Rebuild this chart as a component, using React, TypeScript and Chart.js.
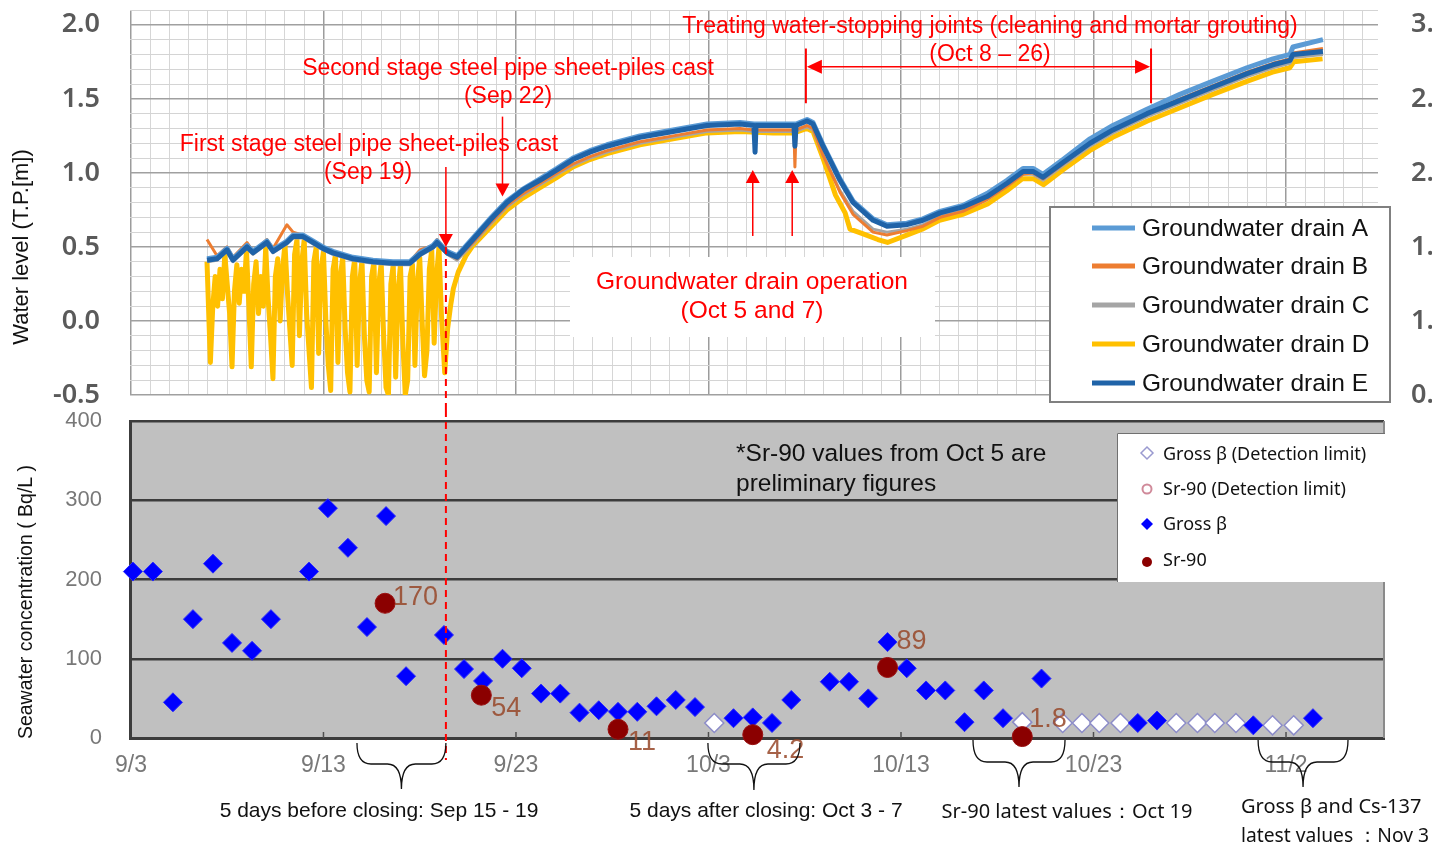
import React, { useEffect, useRef } from 'react';
import { Chart, registerables } from 'chart.js';
Chart.register(...registerables);

const W = 1432;
const TOP_H = 410;
const BOT_H = 437;
const FONT_A = "'Liberation Sans', Arial, sans-serif";
const FONT_C = "'Noto Sans', 'Open Sans', sans-serif";
const RED = '#ff0000';

// ---------- Top chart: water level (days since Sep 3) ----------
const levelDays = [3.95, 4.47, 4.99, 5.3, 6.03, 6.34, 7.06, 7.38, 8.1, 8.42, 8.94, 9.45, 9.97, 10.49, 11.53, 12.57, 13.61, 14.49, 15.01, 15.69, 15.9, 16.42, 16.94, 17.77, 18.65, 19.53, 20.36, 21.25, 22.13, 22.96, 23.84, 24.73, 26.44, 28.16, 29.92, 31.64, 32.36, 32.42, 32.47, 33.35, 34.44, 34.49, 34.55, 35.12, 35.43, 35.95, 36.83, 37.51, 38.55, 39.27, 40.31, 41.14, 42.03, 43.22, 44.47, 45.51, 46.34, 46.86, 47.38, 48.42, 49.82, 51.01, 52.78, 54.49, 56.21, 57.97, 59.32, 60.21, 60.36, 61.92];
const drainE = [0.41, 0.42, 0.48, 0.41, 0.50, 0.46, 0.53, 0.47, 0.53, 0.57,
  0.57, 0.53, 0.49, 0.46, 0.42, 0.40, 0.39, 0.39, 0.45, 0.50,
  0.53, 0.46, 0.43, 0.55, 0.68, 0.80, 0.885, 0.95, 1.02, 1.09,
  1.14, 1.18, 1.24, 1.28, 1.32, 1.33, 1.32, 1.14, 1.32, 1.32,
  1.32, 1.18, 1.32, 1.35, 1.33, 1.18, 0.95, 0.80, 0.68, 0.64,
  0.65, 0.68, 0.73, 0.77, 0.84, 0.93, 1.01, 1.01, 0.97, 1.07,
  1.20, 1.29, 1.40, 1.49, 1.58, 1.67, 1.73, 1.76, 1.80, 1.82];
const drainA = [0.42, 0.43, 0.49, 0.42, 0.51, 0.47, 0.54, 0.48, 0.54, 0.58,
  0.58, 0.54, 0.50, 0.47, 0.43, 0.41, 0.40, 0.40, 0.46, 0.51,
  0.54, 0.47, 0.44, 0.56, 0.69, 0.81, 0.89, 0.96, 1.03, 1.10,
  1.15, 1.19, 1.25, 1.29, 1.33, 1.34, 1.33, 1.33, 1.33, 1.33,
  1.33, 1.33, 1.33, 1.36, 1.34, 1.19, 0.96, 0.81, 0.69, 0.65,
  0.66, 0.69, 0.74, 0.78, 0.86, 0.95, 1.03, 1.03, 0.99, 1.09,
  1.23, 1.32, 1.43, 1.53, 1.62, 1.71, 1.77, 1.80, 1.85, 1.90];
const drainB = [0.55, 0.44, 0.50, 0.43, 0.53, 0.47, 0.55, 0.49, 0.65, 0.60,
  0.58, 0.54, 0.50, 0.47, 0.43, 0.41, 0.40, 0.40, 0.48, 0.51,
  0.55, 0.47, 0.42, 0.53, 0.66, 0.78, 0.86, 0.93, 1.00, 1.06,
  1.11, 1.15, 1.21, 1.25, 1.29, 1.30, 1.29, 1.29, 1.29, 1.29,
  1.29, 1.04, 1.29, 1.32, 1.30, 1.12, 0.87, 0.72, 0.60, 0.58,
  0.61, 0.64, 0.70, 0.74, 0.82, 0.91, 0.99, 1.00, 0.96, 1.06,
  1.20, 1.29, 1.40, 1.50, 1.59, 1.68, 1.74, 1.77, 1.81, 1.84];
const drainC = [0.40, 0.41, 0.47, 0.40, 0.49, 0.45, 0.52, 0.46, 0.52, 0.56,
  0.56, 0.52, 0.48, 0.45, 0.41, 0.39, 0.38, 0.38, 0.44, 0.49,
  0.52, 0.45, 0.41, 0.52, 0.65, 0.77, 0.85, 0.92, 0.99, 1.05,
  1.10, 1.14, 1.20, 1.24, 1.28, 1.29, 1.28, 1.28, 1.28, 1.28,
  1.28, 1.28, 1.28, 1.31, 1.29, 1.12, 0.88, 0.74, 0.62, 0.60,
  0.62, 0.65, 0.71, 0.75, 0.82, 0.91, 0.99, 0.99, 0.95, 1.05,
  1.18, 1.27, 1.38, 1.47, 1.56, 1.65, 1.71, 1.74, 1.78, 1.80];
// Drain D: tidal swings until the Sep 19 closing, then the common rise
const drainDDays = [3.95, 4.125, 4.25, 4.375, 4.5, 4.625, 4.75, 4.875,
  5.0, 5.125, 5.25, 5.375, 5.5, 5.625, 5.75, 5.875,
  6.0, 6.125, 6.25, 6.375, 6.5, 6.625, 6.75, 6.875,
  7.0, 7.125, 7.25, 7.375, 7.5, 7.625, 7.75, 7.875,
  8.0, 8.125, 8.25, 8.375, 8.5, 8.625, 8.75, 8.875,
  9.0, 9.125, 9.25, 9.375, 9.5, 9.625, 9.75, 9.875,
  10.0, 10.125, 10.25, 10.375, 10.5, 10.625, 10.75, 10.875,
  11.0, 11.125, 11.25, 11.375, 11.5, 11.625, 11.75, 11.875,
  12.0, 12.125, 12.25, 12.375, 12.5, 12.625, 12.75, 12.875,
  13.0, 13.125, 13.25, 13.375, 13.5, 13.625, 13.75, 13.875,
  14.0, 14.125, 14.25, 14.375, 14.5, 14.625, 14.75, 14.875,
  15.0, 15.125, 15.25, 15.375, 15.5, 15.625, 15.75, 15.875,
  16.0, 16.125, 16.3, 16.45, 16.6, 16.75, 17.0, 17.4,
  17.77, 18.65, 19.53, 20.36, 21.25, 22.13, 22.96, 23.84, 24.73, 26.44, 28.16, 29.92, 31.64, 33.35, 34.44, 35.12, 35.43, 35.95, 36.6, 37.1, 37.35, 38.0, 38.8, 39.3, 40.3, 41.1, 42.0, 43.2, 44.5, 45.5, 46.3, 46.9, 47.4, 48.4, 49.8, 51.0, 52.8, 54.5, 56.2, 58.0, 59.3, 60.2, 60.4, 61.9];
const drainD = [0.40, -0.28, 0.10, 0.30, 0.10, 0.35, 0.15, 0.45,
  0.25, 0.05, -0.31, 0.20, 0.38, 0.12, 0.35, 0.20,
  0.48, 0.10, -0.31, 0.25, 0.40, 0.05, 0.30, 0.10,
  0.50, 0.15, -0.10, -0.39, 0.30, 0.42, 0.00, 0.35,
  0.52, 0.20, -0.05, -0.30, 0.45, 0.55, -0.10, 0.40,
  0.55, 0.05, -0.20, -0.45, 0.40, 0.50, -0.22, 0.35,
  0.47, 0.00, -0.30, -0.47, 0.35, 0.45, -0.28, 0.30,
  0.43, -0.05, -0.35, -0.48, 0.30, 0.42, -0.30, 0.25,
  0.41, -0.10, -0.40, -0.48, 0.30, 0.40, -0.35, 0.25,
  0.39, -0.10, -0.45, -0.50, 0.25, 0.38, -0.38, 0.20,
  0.38, -0.15, -0.50, -0.40, 0.30, 0.38, -0.30, 0.25,
  0.43, 0.00, -0.37, -0.20, 0.35, 0.48, -0.15, 0.30,
  0.50, 0.05, -0.35, -0.05, 0.10, 0.22, 0.33, 0.44,
  0.51, 0.63, 0.75, 0.83, 0.90, 0.97, 1.04, 1.09, 1.13, 1.19, 1.23, 1.27, 1.28, 1.27, 1.27, 1.30, 1.28, 1.10, 0.85, 0.73, 0.62, 0.59, 0.55, 0.53, 0.58, 0.62, 0.68, 0.72, 0.79, 0.88, 0.96, 0.96, 0.92, 1.02, 1.15, 1.24, 1.35, 1.44, 1.53, 1.62, 1.68, 1.71, 1.75, 1.77];

const drainNames = ['Groundwater drain A', 'Groundwater drain B', 'Groundwater drain C', 'Groundwater drain D', 'Groundwater drain E'];
const drainColors = ['#5b9bd5', '#ed7d31', '#a5a5a5', '#ffc000', '#1f63a8'];
const levelTickValues = [-0.5, 0, 0.5, 1.0, 1.5, 2.0];

// ---------- Bottom chart: seawater concentration ----------
const tickDays = [0, 10, 20, 30, 40, 50, 60];
const tickLabels = ['9/3', '9/13', '9/23', '10/3', '10/13', '10/23', '11/2'];
const grossDays = [0.1, 1.14, 2.18, 3.22, 4.26, 5.25, 6.29, 7.27, 9.25, 10.23, 11.27, 12.26, 13.25, 14.29, 16.26, 17.3, 18.29, 19.3, 20.3, 21.3, 22.3, 23.3, 24.3, 25.3, 26.3, 27.3, 28.3, 29.3, 31.3, 32.3, 33.3, 34.3, 36.3, 37.3, 38.3, 39.3, 40.3, 41.3, 42.3, 43.3, 44.3, 45.3, 47.3, 52.3, 53.3, 58.3, 61.4];
const grossVals = [210, 210, 45, 150, 220, 120, 110, 150, 210, 290, 240, 140, 280, 78, 130, 87, 72, 100, 88, 56, 56, 32, 35, 33, 33, 40, 48, 39, 25, 26, 19, 48, 71, 71, 50, 121, 88, 60, 60, 20, 60, 25, 75, 19, 22, 16, 25];
const grossDlDays = [30.3, 46.3, 48.4, 49.4, 50.3, 51.4, 54.3, 55.4, 56.3, 57.4, 59.3, 60.4];
const grossDlVals = [19, 20, 19, 19, 19, 19, 19, 19, 19, 19, 16, 16];
const sr90Days = [13.2, 18.2, 25.3, 32.3, 39.3, 46.3];
const sr90Vals = [170, 54, 11, 4.2, 89, 1.8];
const sr90DlDays: number[] = [];
const sr90DlVals: number[] = [];
const concTickValues = [0, 100, 200, 300, 400];

const pts = (days: number[], vals: number[]) => days.map((d, i) => ({ x: d, y: vals[i] }));

function arrow(ctx: CanvasRenderingContext2D, x1: number, y1: number, x2: number, y2: number, len = 12, hw = 6) {
  const a = Math.atan2(y2 - y1, x2 - x1);
  ctx.beginPath();
  ctx.moveTo(x1, y1);
  ctx.lineTo(x2 - Math.cos(a) * len * 0.8, y2 - Math.sin(a) * len * 0.8);
  ctx.stroke();
  ctx.beginPath();
  ctx.moveTo(x2, y2);
  ctx.lineTo(x2 - Math.cos(a) * len - Math.sin(a) * hw, y2 - Math.sin(a) * len + Math.cos(a) * hw);
  ctx.lineTo(x2 - Math.cos(a) * len + Math.sin(a) * hw, y2 - Math.sin(a) * len - Math.cos(a) * hw);
  ctx.closePath();
  ctx.fill();
}

function brace(ctx: CanvasRenderingContext2D, xl: number, xr: number, yTop: number, yMid: number, yTip: number) {
  const xc = (xl + xr) / 2;
  const r = 14;
  ctx.beginPath();
  ctx.moveTo(xl, yTop);
  ctx.quadraticCurveTo(xl, yMid, xl + r, yMid);
  ctx.lineTo(xc - r, yMid);
  ctx.quadraticCurveTo(xc, yMid, xc, yTip);
  ctx.moveTo(xr, yTop);
  ctx.quadraticCurveTo(xr, yMid, xr - r, yMid);
  ctx.lineTo(xc + r, yMid);
  ctx.quadraticCurveTo(xc, yMid, xc, yTip);
  ctx.stroke();
}

const isMajorLevel = (v: number) => Math.abs(v * 2 - Math.round(v * 2)) < 1e-6;

const topDecor = {
  id: 'topDecor',
  afterDraw(chart: any) {
    const { ctx } = chart;
    const X = (d: number) => chart.scales.x.getPixelForValue(d);
    const Y = (v: number) => chart.scales.y.getPixelForValue(v);
    ctx.save();
    // white note box
    ctx.fillStyle = '#ffffff';
    ctx.fillRect(570, 257, 365, 80);
    // legend
    ctx.fillRect(1050, 207, 340, 195);
    ctx.strokeStyle = '#808080';
    ctx.lineWidth = 2;
    ctx.strokeRect(1050, 207, 340, 195);
    const legY = [228, 266, 305, 344, 383];
    ctx.font = `24.5px ${FONT_A}`;
    ctx.textBaseline = 'middle';
    ctx.textAlign = 'left';
    drainNames.forEach((n, i) => {
      ctx.strokeStyle = drainColors[i];
      ctx.lineWidth = 5;
      ctx.beginPath();
      ctx.moveTo(1092, legY[i]);
      ctx.lineTo(1135, legY[i]);
      ctx.stroke();
      ctx.fillStyle = '#111111';
      ctx.fillText(n, 1142, legY[i] + 1);
    });
    // annotation texts
    ctx.fillStyle = RED;
    ctx.textAlign = 'center';
    ctx.font = `23px ${FONT_A}`;
    ctx.fillText('Treating water-stopping joints (cleaning and mortar grouting)', 990, 27);
    ctx.fillText('(Oct 8 \u2013 26)', 990, 55);
    ctx.fillText('Second stage steel pipe sheet-piles cast', 508, 69);
    ctx.fillText('(Sep 22)', 508, 97);
    ctx.fillText('First stage steel pipe sheet-piles cast', 369, 145);
    ctx.fillText('(Sep 19)', 368, 173);
    ctx.font = `24.5px ${FONT_A}`;
    ctx.fillText('Groundwater drain operation', 752, 282);
    ctx.fillText('(Oct 5 and 7)', 752, 311);
    // arrows
    ctx.strokeStyle = RED;
    ctx.lineWidth = 1.5;
    arrow(ctx, X(16.36), Y(1.04), X(16.36), Y(0.5), 13, 7);
    arrow(ctx, X(19.3), Y(1.38), X(19.3), Y(0.84), 13, 7);
    arrow(ctx, X(32.3), Y(0.574), X(32.3), Y(1.02), 13, 7);
    arrow(ctx, X(34.35), Y(0.574), X(34.35), Y(1.02), 13, 7);
    ctx.lineWidth = 2;
    const xa = X(35.06), xb = X(52.99);
    ctx.beginPath();
    ctx.moveTo(xa, Y(1.84)); ctx.lineTo(xa, Y(1.47));
    ctx.moveTo(xb, Y(1.84)); ctx.lineTo(xb, Y(1.47));
    ctx.stroke();
    ctx.lineWidth = 1.5;
    const ym = Y(1.716);
    arrow(ctx, (xa + xb) / 2, ym, xa + 1, ym, 15, 7);
    arrow(ctx, (xa + xb) / 2, ym, xb - 1, ym, 15, 7);
    // dashed line
    ctx.setLineDash([7, 5]);
    ctx.lineWidth = 2;
    ctx.beginPath();
    ctx.moveTo(X(16.36), Y(0.5));
    ctx.lineTo(X(16.36), TOP_H);
    ctx.stroke();
    ctx.setLineDash([]);
    // axis title
    ctx.translate(22, 247);
    ctx.rotate(-Math.PI / 2);
    ctx.fillStyle = '#111111';
    ctx.font = `22px ${FONT_A}`;
    ctx.textAlign = 'center';
    ctx.fillText('Water level (T.P.[m])', 0, 0);
    ctx.restore();
  },
};

const botDecor = {
  id: 'botDecor',
  beforeDraw(chart: any) {
    const { ctx, chartArea: a } = chart;
    ctx.save();
    ctx.fillStyle = '#c0c0c0';
    ctx.fillRect(a.left, a.top, a.right - a.left, a.bottom - a.top);
    ctx.restore();
  },
  afterDraw(chart: any) {
    const { ctx, chartArea: a } = chart;
    const X = (d: number) => chart.scales.x.getPixelForValue(d);
    const Y = (v: number) => chart.scales.y.getPixelForValue(v);
    ctx.save();
    // right border and inward ticks
    ctx.strokeStyle = '#8a8a8a';
    ctx.lineWidth = 2;
    ctx.beginPath();
    ctx.moveTo(a.right, a.top); ctx.lineTo(a.right, a.bottom);
    ctx.stroke();
    ctx.strokeStyle = '#505050';
    ctx.lineWidth = 1.5;
    tickDays.forEach((d) => {
      if (d === 0) return;
      ctx.beginPath();
      ctx.moveTo(X(d), a.bottom - 6); ctx.lineTo(X(d), a.bottom);
      ctx.stroke();
    });
    // Sr-90 value labels
    const offs = [[8, -6], [10, 13], [10, 13], [14, 16], [9, -26], [7, -17]];
    ctx.font = `27px ${FONT_A}`;
    ctx.fillStyle = 'rgba(150,70,40,0.85)';
    ctx.textAlign = 'left';
    ctx.textBaseline = 'middle';
    sr90Days.forEach((d, i) => {
      ctx.fillText(String(sr90Vals[i]), X(d) + offs[i][0], Y(sr90Vals[i]) + offs[i][1]);
    });
    // note
    ctx.fillStyle = '#111111';
    ctx.font = `24.5px ${FONT_A}`;
    ctx.fillText('*Sr-90 values from Oct 5 are', 736, 44);
    ctx.fillText('preliminary figures', 736, 74);
    // legend
    ctx.fillStyle = '#ffffff';
    ctx.fillRect(1117, 23, 268, 149);
    ctx.strokeStyle = '#707070';
    ctx.lineWidth = 1;
    ctx.beginPath();
    ctx.moveTo(1117.5, 172); ctx.lineTo(1117.5, 23.5); ctx.lineTo(1385, 23.5);
    ctx.stroke();
    const ly = [45, 80, 115, 151];
    const mx = 1147;
    const diamond = (x: number, y: number, r: number) => {
      ctx.beginPath();
      ctx.moveTo(x, y - r); ctx.lineTo(x + r, y); ctx.lineTo(x, y + r); ctx.lineTo(x - r, y); ctx.closePath();
    };
    diamond(mx, ly[0] - 2, 6);
    ctx.fillStyle = '#ffffff'; ctx.fill();
    ctx.strokeStyle = '#9a9ad0'; ctx.lineWidth = 1.5; ctx.stroke();
    ctx.beginPath(); ctx.arc(mx, ly[1] - 1, 4.5, 0, Math.PI * 2);
    ctx.fillStyle = '#ffffff'; ctx.fill();
    ctx.strokeStyle = '#d08a9a'; ctx.lineWidth = 2; ctx.stroke();
    diamond(mx, ly[2] - 1, 6);
    ctx.fillStyle = '#0000ff'; ctx.fill();
    ctx.beginPath(); ctx.arc(mx, ly[3] + 1, 5, 0, Math.PI * 2);
    ctx.fillStyle = '#8b0000'; ctx.fill();
    ctx.fillStyle = '#111111';
    ctx.font = `18px ${FONT_C}`;
    const legNames = ['Gross \u03b2 (Detection limit)', 'Sr-90 (Detection limit)', 'Gross \u03b2', 'Sr-90'];
    legNames.forEach((n, i) => ctx.fillText(n, 1163, ly[i]));
    // dashed red line
    ctx.strokeStyle = RED;
    ctx.lineWidth = 2;
    ctx.setLineDash([7, 5]);
    ctx.beginPath();
    ctx.moveTo(X(16.36), 0); ctx.lineTo(X(16.36), 350);
    ctx.stroke();
    ctx.setLineDash([]);
    // braces
    ctx.strokeStyle = '#111111';
    ctx.lineWidth = 1.3;
    brace(ctx, X(11.74), X(16.36), 333, 354, 379);
    brace(ctx, X(29.97), X(34.75), 333, 354, 380);
    brace(ctx, X(43.74), X(48.52), 330, 352, 377);
    brace(ctx, X(58.55), X(63.22), 330, 352, 377);
    // bottom texts
    ctx.fillStyle = '#111111';
    ctx.textAlign = 'center';
    ctx.font = `21px ${FONT_A}`;
    ctx.fillText('5 days before closing: Sep 15 - 19', 379, 401);
    ctx.fillText('5 days after closing: Oct 3 - 7', 766, 401);
    ctx.font = `20px ${FONT_C}`;
    ctx.fillText('Sr-90 latest values\uff1aOct 19', 1067, 402);
    ctx.textAlign = 'left';
    ctx.fillText('Gross \u03b2 and Cs-137', 1241, 397);
    ctx.fillText('latest values \uff1aNov 3', 1241, 426, 188);
    // axis title
    ctx.translate(27, 192);
    ctx.rotate(-Math.PI / 2);
    ctx.textAlign = 'center';
    ctx.font = `19.5px ${FONT_A}`;
    ctx.fillText('Seawater concentration ( Bq/L )', 0, 0);
    ctx.restore();
  },
};

function levelTickLabel(v: number, offset: number) {
  return isMajorLevel(v) ? (v + offset).toFixed(1) : '';
}

function topConfig(): any {
  const levelTicks: number[] = [];
  for (let i = -5; i <= 21; i++) levelTicks.push(i / 10);
  const dayTicks: number[] = [];
  for (let i = 0; i <= 64; i++) dayTicks.push(i);
  const series = [drainE, drainA, drainB, drainC];
  const idx = [4, 0, 1, 2];
  const datasets: any[] = series.map((s, k) => ({
    label: drainNames[idx[k]],
    data: pts(levelDays, s),
    borderColor: drainColors[idx[k]],
    borderWidth: idx[k] === 1 || idx[k] === 2 ? 3 : 5,
    order: k,
  }));
  datasets.push({ label: drainNames[3], data: pts(drainDDays, drainD), borderColor: drainColors[3], borderWidth: 5, order: 4 });
  return {
    type: 'line',
    data: { datasets },
    options: {
      responsive: false,
      animation: false,
      devicePixelRatio: 1,
      events: [],
      layout: { padding: { top: 10, left: 0, right: 0, bottom: 0 } },
      plugins: { legend: { display: false }, tooltip: { enabled: false } },
      elements: { point: { radius: 0 }, line: { tension: 0, borderJoinStyle: 'round', fill: false } },
      scales: {
        x: {
          type: 'linear', min: -0.05, max: 64.78,
          afterBuildTicks: (s: any) => { s.ticks = dayTicks.map((v) => ({ value: v })); },
          ticks: { display: false },
          grid: {
            drawTicks: false,
            color: (c: any) => (c.tick && c.tick.value % 10 === 0 ? '#9c9c9c' : '#d6d6d6'),
            lineWidth: (c: any) => (c.tick && c.tick.value % 10 === 0 ? 1.5 : 1),
          },
          border: { display: false },
          afterFit: (s: any) => { s.height = 15; s.paddingLeft = 0; s.paddingRight = 0; },
        },
        y: {
          min: -0.5, max: 2.1,
          afterBuildTicks: (s: any) => { s.ticks = levelTicks.map((v) => ({ value: v })); },
          ticks: { autoSkip: false, padding: 30, color: '#5a5a5a', font: { family: FONT_C, size: 27, weight: '600' }, callback: (v: any) => levelTickLabel(Number(v), 0) },
          grid: {
            drawTicks: false,
            color: (c: any) => (c.tick && isMajorLevel(c.tick.value) ? '#a0a0a0' : '#d4d4d4'),
            lineWidth: (c: any) => (c.tick && isMajorLevel(c.tick.value) ? 1.5 : 1),
          },
          border: { display: false },
          afterFit: (s: any) => { s.width = 130; s.paddingTop = 0; s.paddingBottom = 0; },
        },
        y2: {
          position: 'right', min: 0.5, max: 3.1,
          afterBuildTicks: (s: any) => { s.ticks = levelTickValues.map((v) => ({ value: v + 1 })); },
          ticks: { autoSkip: false, padding: 33, color: '#5a5a5a', font: { family: FONT_C, size: 27, weight: '600' }, callback: (v: any) => Number(v).toFixed(1) },
          grid: { drawOnChartArea: false, drawTicks: false },
          border: { display: false },
          afterFit: (s: any) => { s.width = 54; s.paddingTop = 0; s.paddingBottom = 0; },
        },
      },
    },
    plugins: [topDecor],
  };
}

function botConfig(): any {
  return {
    type: 'scatter',
    data: {
      datasets: [
        { label: 'Sr-90', data: pts(sr90Days, sr90Vals), pointStyle: 'circle', pointRadius: 10, backgroundColor: '#8b0000', borderColor: '#9a1010', borderWidth: 1, clip: false, order: 0 },
        { label: 'Sr-90 (Detection limit)', data: pts(sr90DlDays, sr90DlVals), pointStyle: 'circle', pointRadius: 5, backgroundColor: '#ffffff', borderColor: '#d08a9a', borderWidth: 2, clip: false, order: 1 },
        { label: 'Gross \u03b2', data: pts(grossDays, grossVals), pointStyle: 'rectRot', pointRadius: 9.5, backgroundColor: '#0000ff', borderColor: '#2a2aff', borderWidth: 1, clip: false, order: 2 },
        { label: 'Gross \u03b2 (Detection limit)', data: pts(grossDlDays, grossDlVals), pointStyle: 'rectRot', pointRadius: 9.5, backgroundColor: '#ffffff', borderColor: '#8c8cc8', borderWidth: 1.5, clip: false, order: 3 },
      ],
    },
    options: {
      responsive: false,
      animation: false,
      devicePixelRatio: 1,
      events: [],
      layout: { padding: { top: 11, left: 0, right: 48, bottom: 0 } },
      plugins: { legend: { display: false }, tooltip: { enabled: false } },
      scales: {
        x: {
          type: 'linear', min: -0.05, max: 65.09,
          afterBuildTicks: (s: any) => { s.ticks = tickDays.map((v) => ({ value: v })); },
          ticks: { autoSkip: false, maxRotation: 0, padding: 14, color: '#787878', font: { family: FONT_A, size: 23 }, callback: (v: any) => tickLabels[tickDays.indexOf(Number(v))] ?? '' },
          grid: { drawOnChartArea: false, drawTicks: false },
          border: { display: true, color: '#3c3c3c', width: 3 },
          afterFit: (s: any) => { s.height = 109; s.paddingLeft = 0; s.paddingRight = 0; },
        },
        y: {
          min: 0, max: 400,
          afterBuildTicks: (s: any) => { s.ticks = concTickValues.map((v) => ({ value: v })); },
          ticks: { autoSkip: false, padding: 28, color: '#787878', font: { family: FONT_A, size: 22 } },
          grid: { drawTicks: false, color: '#3c3c3c', lineWidth: 2.5 },
          border: { display: true, color: '#3c3c3c', width: 3 },
          afterFit: (s: any) => { s.width = 130; s.paddingTop = 0; s.paddingBottom = 0; },
        },
      },
    },
    plugins: [botDecor],
  };
}

export default function App() {
  const topRef = useRef<HTMLCanvasElement>(null);
  const botRef = useRef<HTMLCanvasElement>(null);
  useEffect(() => {
    Chart.defaults.font.family = FONT_A;
    const top = new Chart(topRef.current as HTMLCanvasElement, topConfig());
    const bot = new Chart(botRef.current as HTMLCanvasElement, botConfig());
    return () => { top.destroy(); bot.destroy(); };
  }, []);
  return (
    <div style={{ position: 'absolute', left: 0, top: 0, width: W, height: 847, overflow: 'hidden', background: '#ffffff' }}>
      <canvas ref={topRef} width={W} height={TOP_H} style={{ position: 'absolute', left: 0, top: 0, width: W, height: TOP_H }} />
      <canvas ref={botRef} width={W} height={BOT_H} style={{ position: 'absolute', left: 0, top: TOP_H, width: W, height: BOT_H }} />
    </div>
  );
}
